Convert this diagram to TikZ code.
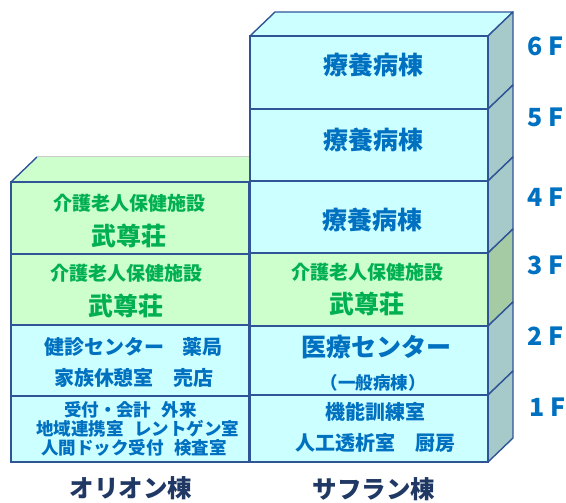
\documentclass[tikz,border=0pt]{standalone}
\usepackage{fontspec}
\setmainfont{Noto Sans CJK JP}
\definecolor{edge}{HTML}{2F5597}
\definecolor{cyanf}{HTML}{CCFFFF}
\definecolor{greenf}{HTML}{CCFFCC}
\definecolor{sidec}{HTML}{A6CACA}
\definecolor{sideg}{HTML}{A5CBA5}
\definecolor{bluet}{HTML}{0070C0}
\definecolor{greent}{HTML}{00B050}
\definecolor{navyt}{HTML}{203864}
\begin{document}
\begin{tikzpicture}[x=1pt,y=-1pt,
  floorbox/.style={draw=edge,line width=1.4pt,rectangle,inner sep=0pt,minimum width=238pt},
  cyanbox/.style={floorbox,fill=cyanf},
  greenbox/.style={floorbox,fill=greenf},
  sideface/.style={draw=edge,line width=1.4pt,line join=round},
  txt/.style={inner sep=0pt,font=\bfseries},
  btxt/.style={txt,text=bluet},
  gtxt/.style={txt,text=greent},
  big/.style={font=\bfseries\fontsize{25}{25}\selectfont},
  mid/.style={font=\bfseries\fontsize{20}{20}\selectfont},
  sml/.style={font=\bfseries\fontsize{17.5}{17.5}\selectfont},
  gsml/.style={font=\bfseries\fontsize{19}{19}\selectfont},
  flabel/.style={inner sep=0pt,text=bluet,font=\bfseries\fontsize{25}{25}\selectfont},
  bname/.style={inner sep=0pt,text=navyt,font=\bfseries\fontsize{24.5}{24.5}\selectfont}]
\useasboundingbox (0,0) rectangle (566,503);

% ---- Orion top face
\fill[greenf] (11,182) -- (37,157) -- (249,157) -- (249,182) -- cycle;
\draw[sideface] (11,182) -- (37,157);
\draw[line width=1pt,draw=black!20] (37,157) -- (249,157);

% ---- Saffron top face
\filldraw[sideface,fill=cyanf] (250,36) -- (275,12) -- (513,12) -- (488,36) -- cycle;

% ---- Saffron side faces
\filldraw[sideface,fill=sidec] (488,36) -- (513,12) -- (513,85) -- (488,109) -- cycle;
\filldraw[sideface,fill=sidec] (488,109) -- (513,85) -- (513,157) -- (488,181) -- cycle;
\filldraw[sideface,fill=sidec] (488,181) -- (513,157) -- (513,229) -- (488,253) -- cycle;
\filldraw[sideface,fill=sideg] (488,253) -- (513,229) -- (513,302) -- (488,326) -- cycle;
\filldraw[sideface,fill=sidec] (488,326) -- (513,302) -- (513,371) -- (488,395) -- cycle;
\filldraw[sideface,fill=sidec] (488,395) -- (513,371) -- (513,438) -- (488,462) -- cycle;

% ---- Orion floors
\node[greenbox,minimum height=72pt] (o4) at (130,218) {};
\node[greenbox,minimum height=71pt] (o3) at (130,289.5) {};
\node[cyanbox,minimum height=71pt] (o2) at (130,360.5) {};
\node[cyanbox,minimum height=66pt] (o1) at (130,429) {};

% ---- Saffron floors
\node[cyanbox,minimum height=73pt] (s6) at (369,72.5) {};
\node[cyanbox,minimum height=72pt] (s5) at (369,145) {};
\node[cyanbox,minimum height=72pt] (s4) at (369,217) {};
\node[greenbox,minimum height=73pt] (s3) at (369,289.5) {};
\node[cyanbox,minimum height=69pt] (s2) at (369,360.5) {};
\node[cyanbox,minimum height=67pt] (s1) at (369,428.5) {};

% ---- Orion texts
\node[gtxt,gsml] (o4a) at (129.5,203.5) {介護老人保健施設};
\node[gtxt,big] (o4b) at (129,235.5) {武尊荘};
\node[gtxt,gsml] (o3a) at (126.5,273) {介護老人保健施設};
\node[gtxt,big] (o3b) at (126,306) {武尊荘};
\node[btxt,mid] (o2a) at (133.5,347) {健診センター\hspace{0.9em}薬局};
\node[btxt,mid] (o2b) at (134,378) {家族休憩室\hspace{1em}売店};
\node[btxt,sml] (o1a) at (130.5,410) {受付・会計\hspace{0.6em}外来};
\node[btxt,sml] (o1b) at (138,429) {地域連携室\hspace{0.6em}レントゲン室};
\node[btxt,sml] (o1c) at (134,448) {人間ドック受付\hspace{0.6em}検査室};

% ---- Saffron texts
\node[btxt,big] (s6a) at (373.5,65) {療養病棟};
\node[btxt,big] (s5a) at (373.5,140) {療養病棟};
\node[btxt,big] (s4a) at (372.5,220) {療養病棟};
\node[gtxt,gsml] (s3a) at (367,272.5) {介護老人保健施設};
\node[gtxt,big] (s3b) at (367,303.5) {武尊荘};
\node[btxt,big] (s2a) at (376.5,347.5) {医療センター};
\node[btxt,sml] (s2b) at (373,382.5) {（一般病棟）};
\node[btxt,mid] (s1a) at (375,412) {機能訓練室};
\node[btxt,mid] (s1b) at (375.5,443) {人工透析室\hspace{1em}厨房};

% ---- floor labels
\node[flabel] (f6) at (546,46) {6 F};
\node[flabel] (f5) at (546,117) {5 F};
\node[flabel] (f4) at (546,197) {4 F};
\node[flabel] (f3) at (546,265) {3 F};
\node[flabel] (f2) at (546,336) {2 F};
\node[flabel] (f1) at (548,407) {1 F};

% ---- building names
\node[bname] (on) at (131,488) {オリオン棟};
\node[bname] (sn) at (374,489.5) {サフラン棟};
\end{tikzpicture}
\end{document}
